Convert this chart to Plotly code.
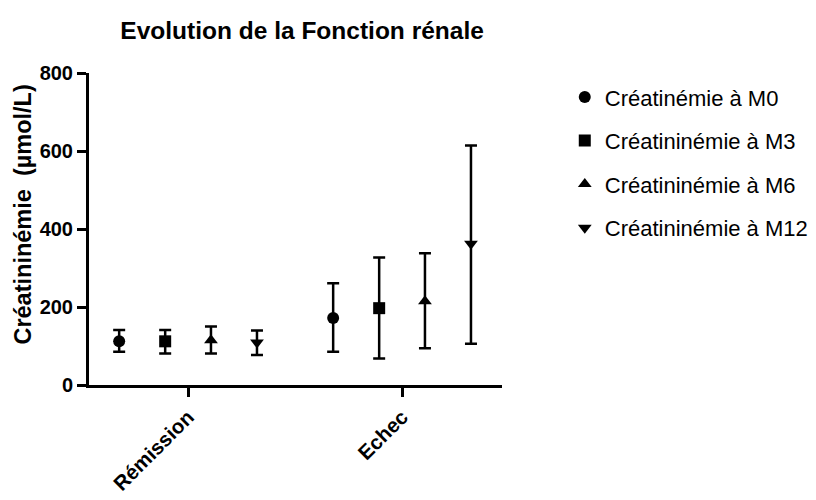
import plotly.graph_objects as go

categories = ["Rémission", "Echec"]
series_names = ["Créatinémie à M0", "Créatininémie à M3", "Créatininémie à M6", "Créatininémie à M12"]
means = [
    [112, 172],
    [112, 197],
    [115, 215],
    [109, 362],
]
sd_plus = [
    [29, 89],
    [29, 130],
    [35, 123],
    [31, 252],
]
sd_minus = [
    [27, 87],
    [31, 129],
    [34, 121],
    [32, 256],
]
symbols = ["circle", "square", "triangle-up", "triangle-down"]
offsets = [-0.322, -0.107, 0.107, 0.322]
yticks = [0, 200, 400, 600, 800]
y_title = "<b>Créatininémie  (µmol/L)</b>"

FONT = "Liberation Sans, Arial, sans-serif"

fig = go.Figure()
for i, name in enumerate(series_names):
    xs = [c + offsets[i] for c in range(len(categories))]
    fig.add_trace(go.Scatter(
        x=xs, y=means[i], mode="markers", name=name,
        legendgroup=name,
        marker=dict(symbol=symbols[i], size=12, color="black"),
        error_y=dict(type="data", symmetric=False, array=sd_plus[i], arrayminus=sd_minus[i],
                     color="black", thickness=2.5, width=6),
    ))

fig.update_layout(
    width=808, height=492,
    paper_bgcolor="white", plot_bgcolor="white",
    margin=dict(l=81, r=314, t=65, b=115, autoexpand=False),
    font=dict(family=FONT, color="black"),
    title=dict(text="<b>Evolution de la Fonction rénale</b>", x=0.516, xref="paper", xanchor="center",
               y=0.955, yanchor="middle", font=dict(size=24.5, family=FONT, color="black")),
    legend=dict(x=1.152, y=0.99, xanchor="left", yanchor="top", font=dict(size=22, family=FONT),
                tracegroupgap=12, itemwidth=30, bgcolor="rgba(0,0,0,0)"),
    showlegend=True,
    annotations=[dict(text=y_title, xref="paper", yref="paper", x=-0.16, y=0.546,
                      xanchor="center", yanchor="middle", textangle=-90, showarrow=False,
                      font=dict(size=23.5, family=FONT, color="black"))],
)
fig.update_xaxes(
    range=[-0.463, 1.467], tickmode="array", tickvals=list(range(len(categories))), ticktext=categories,
    showline=True, linewidth=3, linecolor="black", ticks="outside", ticklen=9, tickwidth=3, tickcolor="black",
    tickangle=-45, tickfont=dict(size=20.5, family=FONT, weight="bold"), showgrid=False, zeroline=False,
    automargin=False,
)
fig.update_yaxes(
    range=[0, 800], tickmode="array", tickvals=yticks,
    showline=True, linewidth=3, linecolor="black", ticks="outside", ticklen=9, tickwidth=3, tickcolor="black",
    tickfont=dict(size=20, family=FONT, weight="bold"), showgrid=False, zeroline=False,
    automargin=False,
)
fig.write_html("out.html")
